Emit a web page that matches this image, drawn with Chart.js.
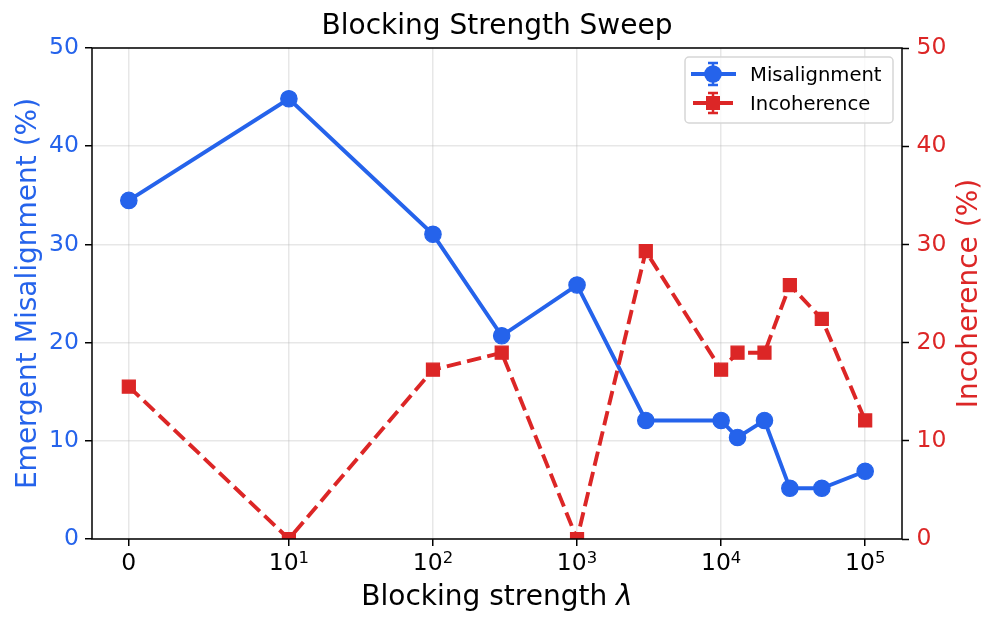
<!DOCTYPE html>
<html><head><meta charset="utf-8">
<script src="https://cdn.jsdelivr.net/npm/chart.js@4.4.0/dist/chart.umd.min.js"></script>
<style>html,body{margin:0;padding:0;background:#fff;}canvas{display:block;}</style>
</head><body>
<canvas id="c" width="996" height="627"></canvas>
<script>
// ---- data ----
const lambdas = [0, 10, 100, 300, 1000, 3000, 10000, 13000, 20000, 30000, 50000, 100000];
const misalignment = [34.48, 44.83, 31.03, 20.69, 25.86, 12.07, 12.07, 10.34, 12.07, 5.17, 5.17, 6.90];
const incoherence = [15.52, 0, 17.24, 18.97, 0, 29.31, 17.24, 18.97, 18.97, 25.86, 22.41, 12.07];
const xTickValues = [0, 10, 100, 1000, 10000, 100000];
const xTickBases = ['0', '10', '10', '10', '10', '10'];
const xTickExponents = ['', '1', '2', '3', '4', '5'];
const yTickValues = [0, 10, 20, 30, 40, 50];

const BLUE = '#2563eb';
const RED = '#dc2626';
const FONT = "'DejaVu Sans', sans-serif";
const TICK_SIZE = 23.5;
const LABEL_SIZE = 28;

// symlog transform (linthresh 10, linscale 1, base 10)
const LINTHRESH = 10;
const LINSCALE = 1 / (1 - 1 / 10);
function symlog(v) {
  const a = Math.abs(v), s = Math.sign(v);
  return a <= LINTHRESH ? s * a / LINTHRESH * LINSCALE : s * (LINSCALE + Math.log10(a / LINTHRESH));
}
const tMax = symlog(100000);
const xMin = -0.05 * tMax, xMax = tMax * 1.05;

const gridColor = 'rgba(176,176,176,0.3)';

const framePlugin = {
  id: 'frame',
  afterDraw(chart) {
    const {ctx, chartArea: a} = chart;
    ctx.save();
    ctx.strokeStyle = '#000';
    ctx.lineWidth = 1.5;
    ctx.strokeRect(a.left, a.top, a.right - a.left, a.bottom - a.top);

    // x tick labels with superscript exponents, placed via the x scale
    const xs = chart.scales.x;
    ctx.fillStyle = '#000';
    ctx.textBaseline = 'alphabetic';
    ctx.textAlign = 'left';
    xTickValues.forEach((v, i) => {
      const px = xs.getPixelForValue(symlog(v));
      ctx.font = `${TICK_SIZE}px ${FONT}`;
      const wb = ctx.measureText(xTickBases[i]).width;
      ctx.font = `${TICK_SIZE * 0.7}px ${FONT}`;
      const we = xTickExponents[i] ? ctx.measureText(xTickExponents[i]).width : 0;
      const sx = px - (wb + we) / 2;
      ctx.font = `${TICK_SIZE}px ${FONT}`;
      ctx.fillText(xTickBases[i], sx, 570);
      if (xTickExponents[i]) {
        ctx.font = `${TICK_SIZE * 0.7}px ${FONT}`;
        ctx.fillText(xTickExponents[i], sx + wb, 563);
      }
    });

    // title
    ctx.textAlign = 'center';
    ctx.font = `${LABEL_SIZE}px ${FONT}`;
    const cx = (a.left + a.right) / 2;
    ctx.fillText('Blocking Strength Sweep', cx, 34);

    // x label with italic lambda
    const p1 = 'Blocking strength ';
    const w1 = ctx.measureText(p1).width;
    ctx.font = `italic ${LABEL_SIZE}px ${FONT}`;
    const w2 = ctx.measureText('\u03BB').width;
    const sx = cx - (w1 + w2) / 2;
    ctx.textAlign = 'left';
    ctx.font = `${LABEL_SIZE}px ${FONT}`;
    ctx.fillText(p1, sx, 605);
    ctx.font = `italic ${LABEL_SIZE}px ${FONT}`;
    ctx.fillText('\u03BB', sx + w1, 605);

    // y labels
    const cy = (a.top + a.bottom) / 2;
    ctx.textAlign = 'center';
    ctx.font = `${LABEL_SIZE}px ${FONT}`;
    ctx.save();
    ctx.translate(36, cy);
    ctx.rotate(-Math.PI / 2);
    ctx.fillStyle = BLUE;
    ctx.fillText('Emergent Misalignment (%)', 0, 0);
    ctx.restore();
    ctx.save();
    ctx.translate(977, cy);
    ctx.rotate(-Math.PI / 2);
    ctx.fillStyle = RED;
    ctx.fillText('Incoherence (%)', 0, 0);
    ctx.restore();

    // legend
    const bx = 685, by = 57, bw = 208, bh = 66;
    ctx.beginPath();
    ctx.roundRect(bx, by, bw, bh, 4);
    ctx.fillStyle = 'rgba(255,255,255,0.8)';
    ctx.fill();
    ctx.strokeStyle = '#d6d6d6';
    ctx.lineWidth = 1.5;
    ctx.stroke();

    const ds = chart.data.datasets;
    const rows = [74, 103];
    ds.forEach((d, i) => {
      const y = rows[i];
      const mx = 713;
      ctx.strokeStyle = d.borderColor;
      ctx.lineWidth = 3.9;
      ctx.beginPath();
      if (d.borderDash) { ctx.moveTo(693, y); ctx.lineTo(707, y); ctx.moveTo(719, y); ctx.lineTo(733, y); }
      else { ctx.moveTo(691, y); ctx.lineTo(736, y); }
      ctx.stroke();
      // error bar
      ctx.lineWidth = 2.5;
      const eh = i === 0 ? 11 : 10;
      ctx.beginPath();
      ctx.moveTo(mx, y - eh); ctx.lineTo(mx, y + eh);
      ctx.moveTo(mx - 5, y - eh); ctx.lineTo(mx + 5, y - eh);
      ctx.moveTo(mx - 5, y + eh); ctx.lineTo(mx + 5, y + eh);
      ctx.stroke();
      ctx.fillStyle = d.borderColor;
      if (i === 0) { ctx.beginPath(); ctx.arc(mx, y, 8.8, 0, Math.PI * 2); ctx.fill(); }
      else { ctx.fillRect(mx - 7, y - 7, 14, 14); }
      ctx.fillStyle = '#000';
      ctx.textAlign = 'left';
      ctx.font = `19.6px ${FONT}`;
      ctx.fillText(d.label, 750, y + 7);
    });
    ctx.restore();
  }
};

function setTicks(values) {
  return (scale) => { scale.ticks = values.map(v => ({value: v})); };
}

new Chart(document.getElementById('c'), {
  type: 'line',
  data: {
    datasets: [
      {
        label: 'Misalignment',
        data: lambdas.map((l, i) => ({x: symlog(l), y: misalignment[i]})),
        borderColor: BLUE, backgroundColor: BLUE,
        borderWidth: 3.9, tension: 0,
        pointStyle: 'circle', pointRadius: 8.2, pointBorderWidth: 1.2,
        pointBackgroundColor: BLUE, pointBorderColor: BLUE,
        yAxisID: 'y', order: 1
      },
      {
        label: 'Incoherence',
        data: lambdas.map((l, i) => ({x: symlog(l), y: incoherence[i]})),
        borderColor: RED, backgroundColor: RED,
        borderWidth: 3.9, tension: 0, borderDash: [14.5, 6.3],
        pointStyle: 'rect', pointRadius: 9.2, pointBorderWidth: 1.2,
        pointBackgroundColor: RED, pointBorderColor: RED,
        yAxisID: 'y2', order: 0
      }
    ]
  },
  options: {
    responsive: false,
    animation: false,
    devicePixelRatio: 1,
    layout: {padding: {top: 48, left: 0, right: 0, bottom: 0}},
    plugins: {legend: {display: false}, tooltip: {enabled: false}, title: {display: false}},
    scales: {
      x: {
        type: 'linear', min: xMin, max: xMax,
        afterBuildTicks: (s) => { s.ticks = xTickValues.map(v => ({value: symlog(v)})); },
        afterFit: (s) => { s.height = 88; },
        ticks: {display: false},
        grid: {color: gridColor, lineWidth: 1.5, tickColor: '#000', tickLength: 7, tickWidth: 1.5},
        border: {display: false}
      },
      y: {
        type: 'linear', position: 'left', min: 0, max: 50,
        afterBuildTicks: setTicks(yTickValues),
        afterFit: (s) => { s.width = 92; },
        ticks: {color: BLUE, font: {family: FONT, size: TICK_SIZE}, padding: 6},
        grid: {color: gridColor, lineWidth: 1.5, tickColor: '#000', tickLength: 7, tickWidth: 1.5},
        border: {display: false}
      },
      y2: {
        type: 'linear', position: 'right', min: 0, max: 50,
        afterBuildTicks: setTicks(yTickValues),
        afterFit: (s) => { s.width = 94; },
        ticks: {color: RED, font: {family: FONT, size: TICK_SIZE}, padding: 7.5},
        grid: {drawOnChartArea: false, tickColor: '#000', tickLength: 7, tickWidth: 1.5},
        border: {display: false}
      }
    }
  },
  plugins: [framePlugin]
});
</script>
</body></html>
